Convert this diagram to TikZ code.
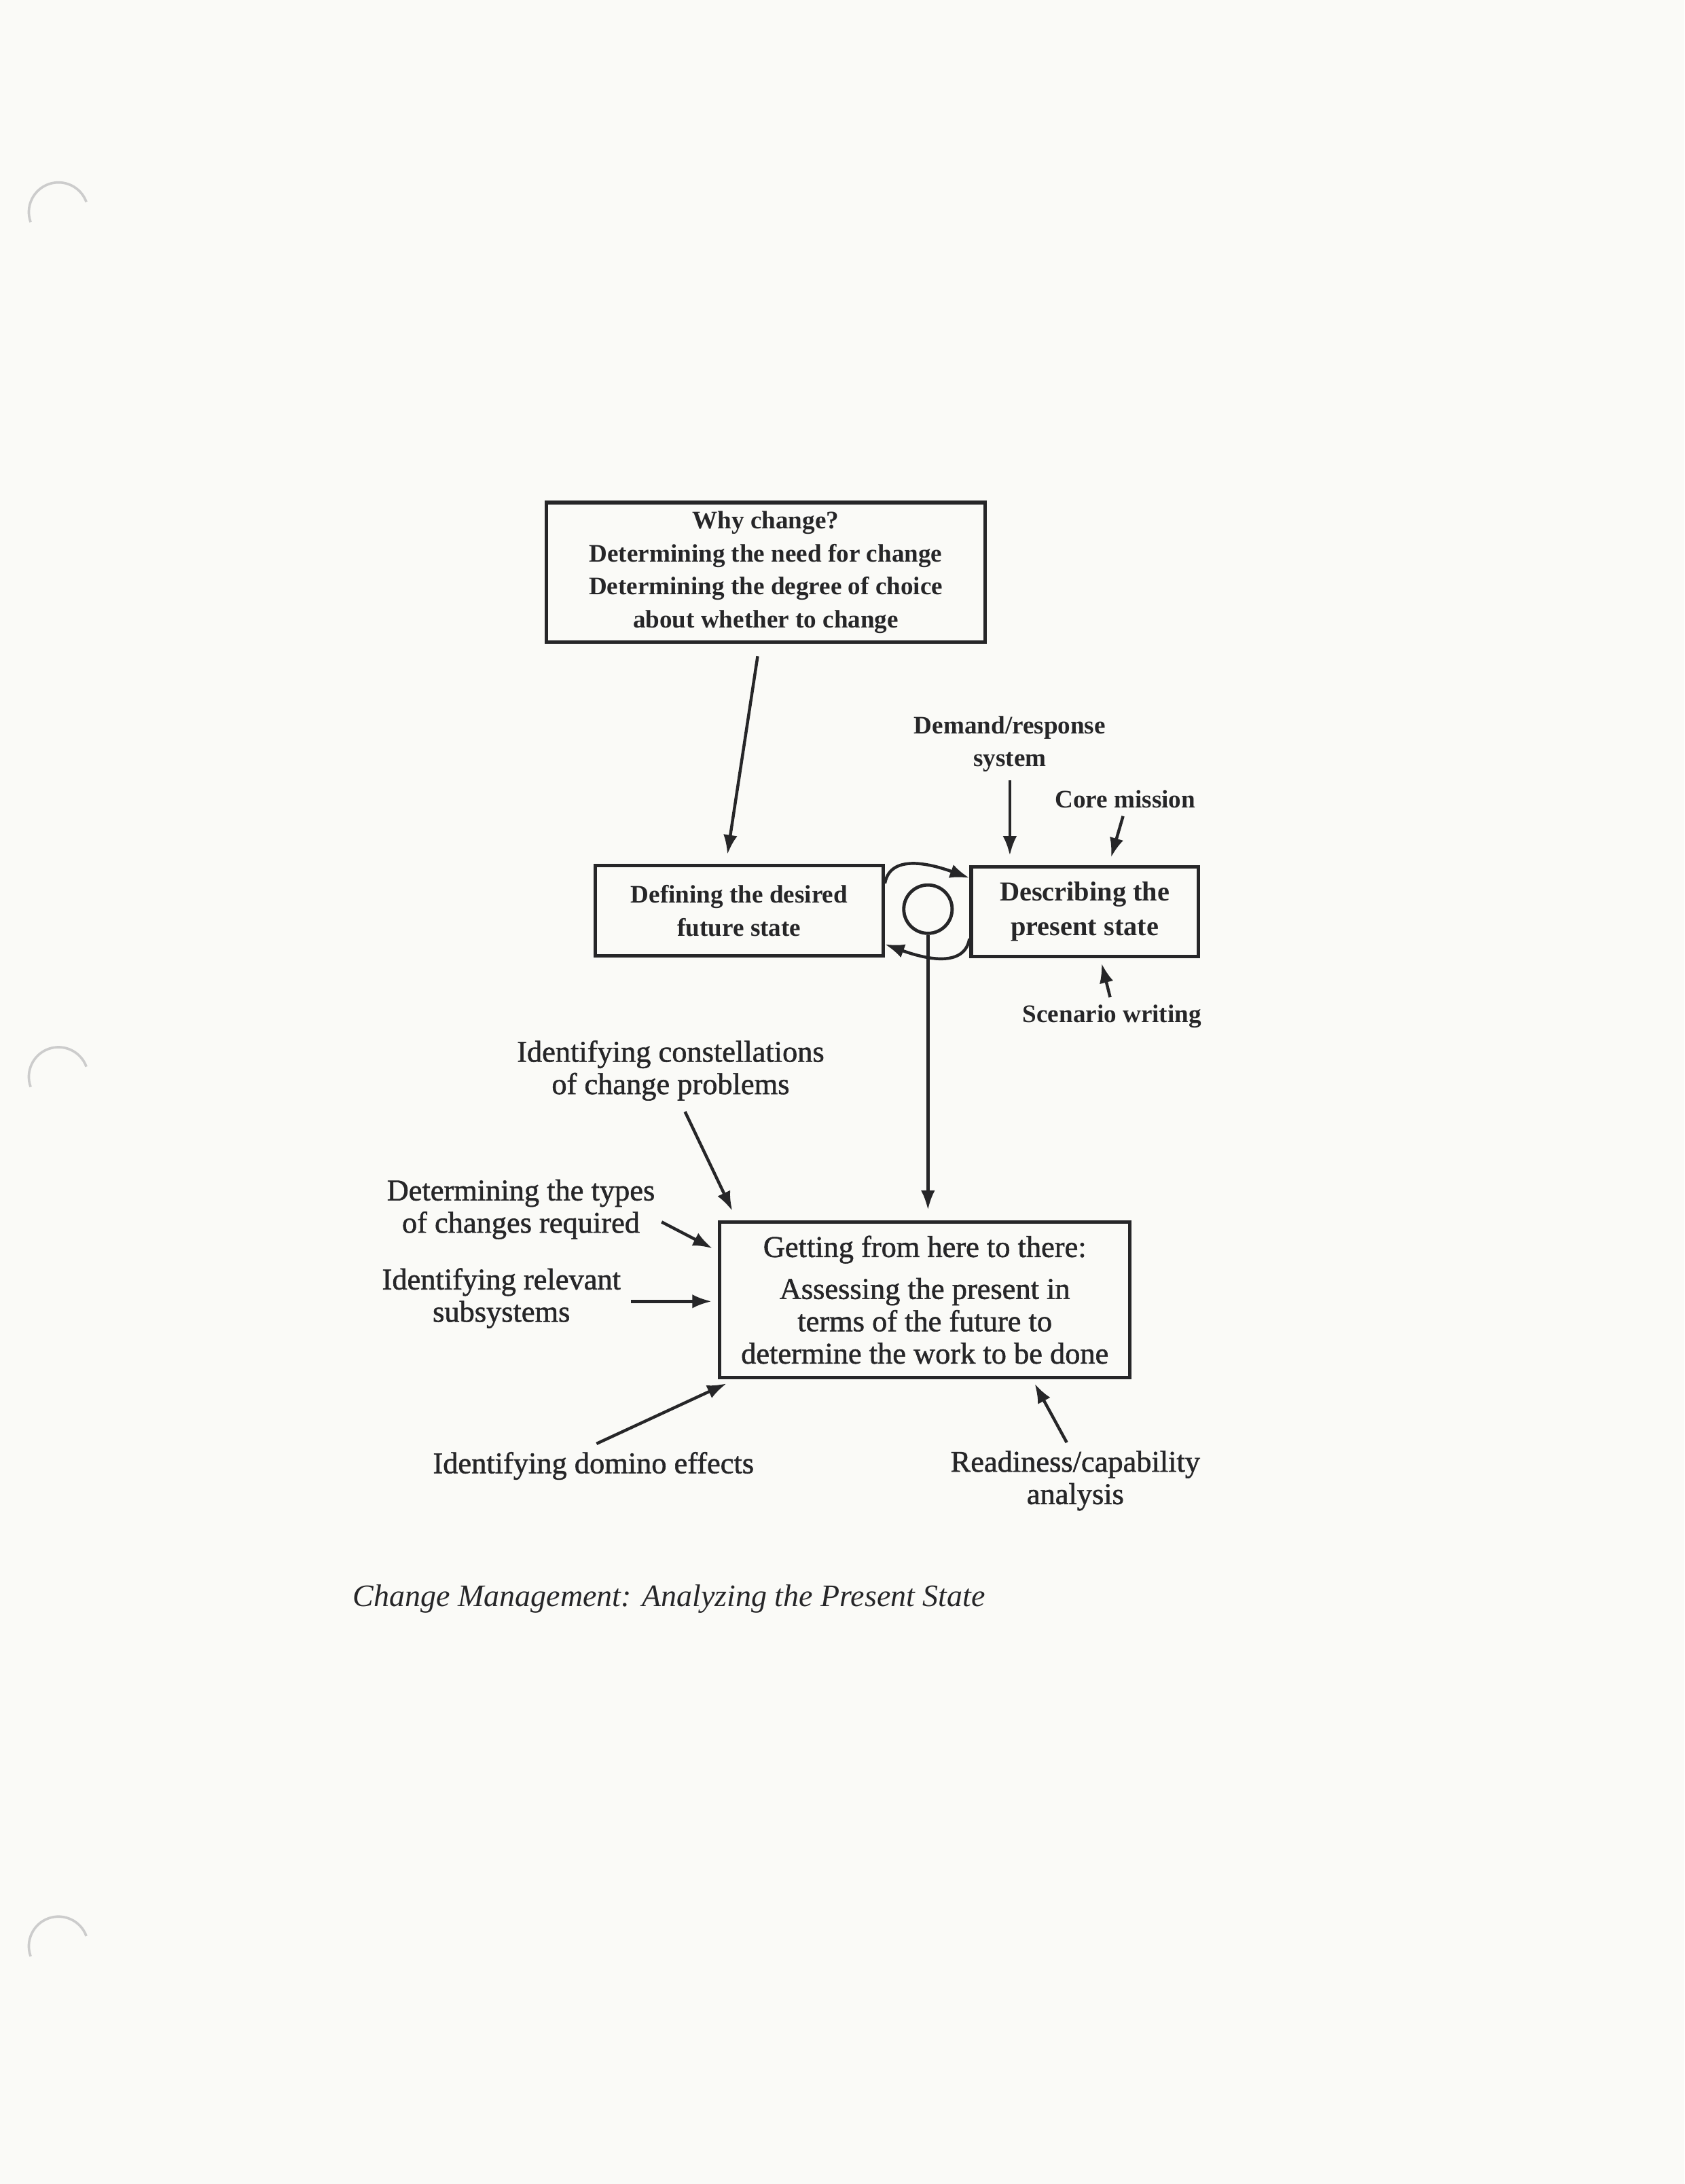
\documentclass[tikz,border=0pt]{standalone}
\usepackage{fontspec}
\setmainfont{Liberation Serif}
\newfontfamily\epais[FakeBold=1.2]{Liberation Serif}
\usetikzlibrary{positioning,calc,arrows.meta}
\definecolor{ink}{RGB}{38,38,40}
\definecolor{papier}{RGB}{250,250,247}
\newcommand\gras{\bfseries\fontsize{9.2}{12}\selectfont}
\newcommand\maigre{\epais\fontsize{11}{11.8}\selectfont}
\begin{document}
\begin{tikzpicture}[
    boite/.style={draw=ink,line width=1.3pt,align=center,inner sep=0pt,text=ink,font=\gras},
    lbl/.style={align=center,inner sep=0pt,text=ink,font=\gras},
    fleche/.style={draw=ink,line width=1.1pt,-{Latex[length=2.5mm,width=1.8mm]}},
    trou/.style={draw=gray!40,line width=0.9pt}]
\useasboundingbox[fill=papier] (0,0) rectangle (21.6,-28.01);
% trous de perforation
\foreach \y in {-2.72,-13.81,-24.96}
    \draw[trou] (0.75,\y) ++(200:0.38) arc (200:20:0.38);
% boites
\node[boite,minimum width=5.63cm,minimum height=1.79cm] (why) at (9.82,-7.34)
    {Why change?\\ Determining the need for change\\ Determining the degree of choice\\ about whether to change};
\node[boite,minimum width=3.69cm,minimum height=1.16cm] (future) at (9.48,-11.68)
    {Defining the desired\\ future state};
\node[boite,minimum width=2.91cm,minimum height=1.15cm,font=\bfseries\fontsize{10}{12.5}\selectfont] (present) at (13.91,-11.69)
    {Describing the\\ present state};
\node[boite,minimum width=5.26cm,minimum height=2.0cm,font=\maigre] (getting) at (11.86,-16.67)
    {Getting from here to there:\\[3.5pt] Assessing the present in\\ terms of the future to\\ determine the work to be done};
\node[draw=ink,circle,line width=1.2pt,minimum size=0.62cm,inner sep=0pt] (boucle) at (11.9,-11.66) {};
% etiquettes
\node[lbl] (demand) at (12.95,-9.54) {Demand/response\\ system};
\node[lbl] (core) at (14.43,-10.25) {Core mission};
\node[lbl] (scenario) at (14.26,-13.04) {Scenario writing};
\node[lbl,font=\maigre] (constel) at (8.60,-13.73) {Identifying constellations\\ of change problems};
\node[lbl,font=\maigre] (types) at (6.68,-15.51) {Determining the types\\ of changes required};
\node[lbl,font=\maigre] (subsys) at (6.43,-16.65) {Identifying relevant\\ subsystems};
\node[lbl,font=\maigre] (domino) at (7.61,-18.80) {Identifying domino effects};
\node[lbl,font=\maigre] (readiness) at (13.79,-18.99) {Readiness/capability\\ analysis};
\node[anchor=west,inner sep=0pt,text=ink,font=\itshape\fontsize{11.4}{12}\selectfont] (caption) at (4.52,-20.51)
    {Change Management: Analyzing the Present State};
% fleches
\draw[fleche,shorten <=1.6mm,shorten >=1.2mm] ([xshift=-0.8mm]why.south) -- ([xshift=-1.7mm]future.north);
\draw[fleche,shorten <=1mm,shorten >=1.2mm] (demand.south) -- (demand.south |- present.north);
\draw[fleche,shorten <=1mm,shorten >=1mm] (core.south) -- ([xshift=3.1mm]present.north);
\draw[fleche,shorten <=1mm,shorten >=0.7mm] (scenario.north) -- ([xshift=2mm]present.south);
\draw[fleche] ([yshift=3.5mm]future.east) to[out=80,in=160] ([yshift=4.3mm]present.west);
\draw[fleche] ([yshift=-3.5mm]present.west) to[out=-100,in=-20] ([yshift=-4.3mm]future.east);
\draw[fleche,shorten >=1.3mm] (boucle.south) -- (boucle.south |- getting.north);
\draw[fleche,shorten <=1.5mm,shorten >=1.3mm] ([xshift=1.2mm]constel.south) -- ([xshift=2.4mm]getting.north west);
\draw[fleche,shorten <=0.9mm,shorten >=0.8mm] ([yshift=-1.2mm]types.east) -- ([yshift=-4mm]getting.north west);
\draw[fleche,shorten <=1.2mm,shorten >=0.8mm] ([yshift=-0.4mm]subsys.east) -- ([yshift=-0.4mm]subsys.east -| getting.west);
\draw[fleche,shorten >=1.2mm] ([xshift=0.4mm,yshift=1mm]domino.north) -- ([xshift=2.2mm]getting.south west);
\draw[fleche,shorten >=0.6mm] ([xshift=-1.1mm,yshift=1mm]readiness.north) -- ([xshift=13.8mm]getting.south);
\end{tikzpicture}
\end{document}
